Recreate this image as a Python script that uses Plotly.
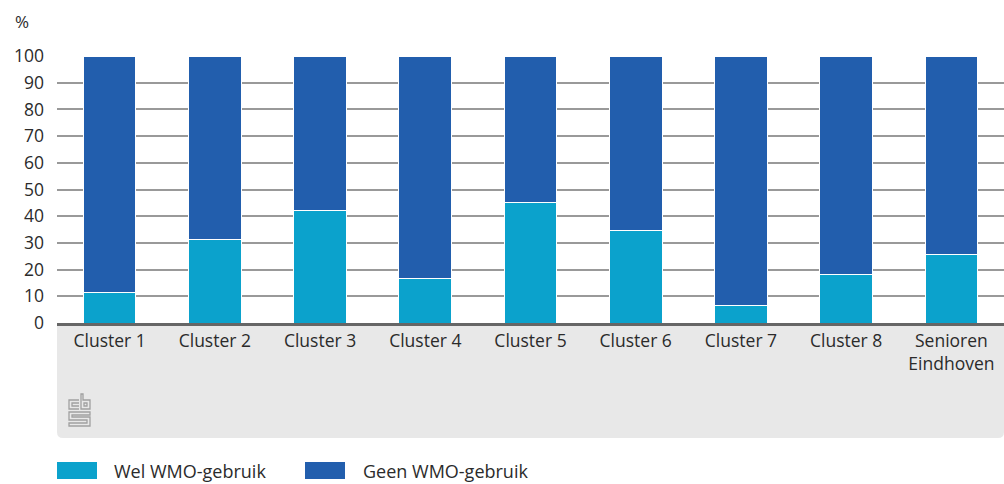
import plotly.graph_objects as go

# Data
categories = ["Cluster 1", "Cluster 2", "Cluster 3", "Cluster 4", "Cluster 5",
              "Cluster 6", "Cluster 7", "Cluster 8", "Senioren<br>Eindhoven"]
wel_wmo = [11.3, 31.1, 42.3, 16.5, 45.2, 34.5, 6.7, 18.1, 25.8]
geen_wmo = [round(100 - v, 1) for v in wel_wmo]
series_names = ["Wel WMO-gebruik", "Geen WMO-gebruik"]
y_ticks = [0, 10, 20, 30, 40, 50, 60, 70, 80, 90, 100]

LIGHT = "#0ba2cc"
DARK = "#225ead"
FONT = "Open Sans"
TEXT = "#2b2b2b"

W, H = 1004, 484
L, R, T, B = 57, 0, 56, 161
PW, PH = W - L - R, H - T - B


def px(x):
    return (x - L) / PW


def py(y):
    return (H - B - y) / PH


fig = go.Figure()
fig.add_trace(go.Bar(x=categories, y=wel_wmo, name=series_names[0],
                     marker=dict(color=LIGHT, line=dict(color="white", width=1))))
fig.add_trace(go.Bar(x=categories, y=geen_wmo, name=series_names[1],
                     marker=dict(color=DARK, line=dict(color="white", width=1))))

shapes = []

# grey panel under the category axis, rounded bottom corners
x0, x1 = px(57), px(1004)
y0, y1 = py(323), py(438)
rx, ry = 6 / PW, 6 / PH
shapes.append(dict(
    type="path", xref="paper", yref="paper", layer="below",
    path=(f"M {x0},{y0} L {x1},{y0} L {x1},{y1 + ry} Q {x1},{y1} {x1 - rx},{y1} "
          f"L {x0 + rx},{y1} Q {x0},{y1} {x0},{y1 + ry} Z"),
    fillcolor="#e8e8e8", line=dict(width=0)))


# small cbs logo drawn as line paths
def logo_path(points, closed=False):
    d = "M " + " L ".join(f"{px(68 + a)},{py(393 + b)}" for a, b in points)
    if closed:
        d += " Z"
    return dict(type="path", xref="paper", yref="paper", path=d,
                line=dict(color="#a0a0a0", width=1.3))


# "c"
shapes.append(logo_path([(11, 7), (1, 7), (1, 16), (11, 16)]))
shapes.append(logo_path([(11, 10), (4, 10), (4, 13), (11, 13)]))
# "b"
shapes.append(logo_path([(13, 16), (13, 1), (15, 1), (15, 7), (22, 7), (22, 16)], closed=True))
shapes.append(logo_path([(16, 10), (19, 10), (19, 13), (16, 13)], closed=True))
# "s"
shapes.append(logo_path([(22, 19), (1, 19), (1, 27), (19, 27), (19, 30), (1, 30),
                         (1, 33), (22, 33), (22, 24), (4, 24), (4, 22), (22, 22)], closed=True))

# legend swatches
shapes.append(dict(type="rect", xref="paper", yref="paper",
                   x0=px(57), x1=px(97), y0=py(479), y1=py(462),
                   fillcolor=LIGHT, line=dict(width=0)))
shapes.append(dict(type="rect", xref="paper", yref="paper",
                   x0=px(305), x1=px(345), y0=py(479), y1=py(462),
                   fillcolor=DARK, line=dict(width=0)))

annotations = [
    dict(text="%", xref="paper", yref="paper", x=px(13), y=py(22),
         xanchor="left", yanchor="middle", showarrow=False,
         font=dict(family=FONT, size=17, color=TEXT)),
    dict(text=series_names[0], xref="paper", yref="paper", x=px(112), y=py(471),
         xanchor="left", yanchor="middle", showarrow=False,
         font=dict(family=FONT, size=18, color=TEXT)),
    dict(text=series_names[1], xref="paper", yref="paper", x=px(361), y=py(471),
         xanchor="left", yanchor="middle", showarrow=False,
         font=dict(family=FONT, size=18, color=TEXT)),
]

fig.update_layout(
    width=W, height=H,
    margin=dict(l=L, r=R, t=T, b=B, pad=0),
    barmode="stack", bargap=0.5,
    paper_bgcolor="white", plot_bgcolor="white",
    showlegend=False,
    font=dict(family=FONT, size=17, color=TEXT),
    shapes=shapes, annotations=annotations,
    xaxis=dict(showgrid=False, showline=True, linecolor="#666666", linewidth=3,
               ticks="", tickfont=dict(size=17.5, color=TEXT), ticklabelstandoff=0,
               fixedrange=True),
    yaxis=dict(range=[0, 100], tickvals=y_ticks, showgrid=True,
               gridcolor="#999999", gridwidth=1.6, zeroline=False,
               tickfont=dict(size=17.5, color=TEXT), ticklabelstandoff=12,
               fixedrange=True),
)

fig.write_html("out.html")
